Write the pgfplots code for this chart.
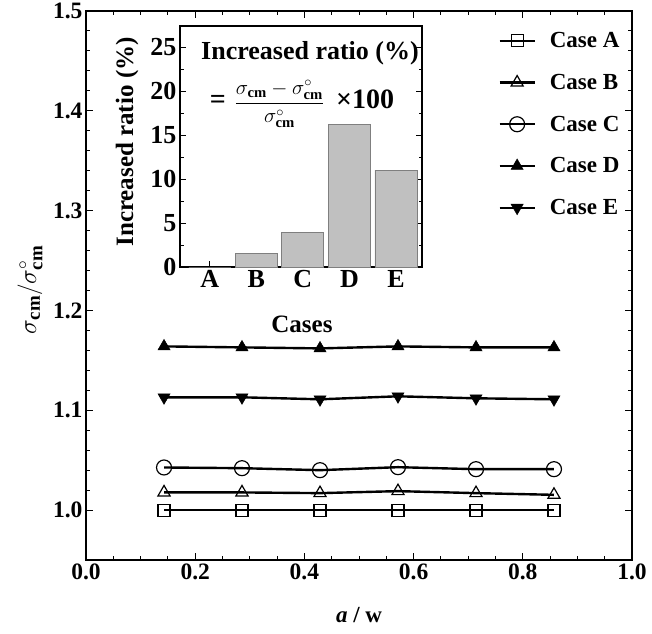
\documentclass[border=0pt]{standalone}
\usepackage{fontspec}
\setmainfont{Liberation Serif}
\usepackage{pgfplots}
\pgfplotsset{compat=1.18}
\definecolor{barfill}{HTML}{C0C0C0}
\definecolor{baredge}{HTML}{7F7F7F}
\begin{document}
\begin{tikzpicture}[x=1pt,y=1pt]
\useasboundingbox (-86,-73) rectangle (566,560);
\begin{axis}[
  name=main,
  at={(0,0)}, anchor=south west,
  scale only axis, width=546pt, height=549pt,
  xmin=0, xmax=1, ymin=0.95, ymax=1.5,
  xtick={0,0.2,0.4,0.6,0.8,1.0},
  ytick={1.0,1.1,1.2,1.3,1.4,1.5},
  minor x tick num=3, minor y tick num=4,
  tick align=inside, major tick length=7pt, minor tick length=4pt,
  axis line style={line width=1.6pt},
  every tick/.style={line width=1pt,black},
  font=\fontsize{23}{27}\selectfont\bfseries,
  xticklabel style={font=\fontsize{23.5}{27}\selectfont\bfseries,/pgf/number format/fixed,/pgf/number format/fixed zerofill,/pgf/number format/precision=1,/pgf/number format/assume math mode=true},
  yticklabel style={font=\fontsize{23.5}{27}\selectfont\bfseries,/pgf/number format/fixed,/pgf/number format/fixed zerofill,/pgf/number format/precision=1,/pgf/number format/assume math mode=true},
  xlabel={\textit{a} / w},
  xlabel style={at={(axis description cs:0.5,-0.100)}, anchor=center},
  ylabel={\fontsize{27}{30}\selectfont$\sigma_{\mathbf{cm}}/\sigma^{\circ}_{\mathbf{cm}}$},
  ylabel style={at={(axis description cs:-0.1026,0.492)}, anchor=center},
  legend style={draw=none, fill=none, at={(axis description cs:0.755,0.965)}, anchor=north west,
    row sep=21pt, column sep=12pt, inner sep=0pt, font=\fontsize{23}{27}\selectfont\bfseries},
  legend cell align=left,
  legend image code/.code={\draw[mark repeat=2,mark phase=2,#1] plot coordinates {(0pt,0pt) (17.5pt,0pt) (35pt,0pt)};},
]
\coordinate (insetSW) at (rel axis cs:0.1722,0.5337);
\addplot[black, line width=2.4pt, mark=square, mark size=6pt, mark options={line width=1.2pt, solid}]
  coordinates {(0.1429,1.000) (0.2857,1.000) (0.4286,1.000) (0.5714,1.000) (0.7143,1.000) (0.8571,1.000)};
\addlegendentry{Case A}
\addplot[black, line width=2.4pt, mark=triangle, mark size=7pt, mark options={line width=1.2pt, solid}]
  coordinates {(0.1429,1.0177) (0.2857,1.0177) (0.4286,1.017) (0.5714,1.019) (0.7143,1.017) (0.8571,1.0153)};
\addlegendentry{Case B}
\addplot[black, line width=2.4pt, mark=o, mark size=7.5pt, mark options={line width=1.2pt, solid}]
  coordinates {(0.1429,1.0427) (0.2857,1.042) (0.4286,1.040) (0.5714,1.043) (0.7143,1.041) (0.8571,1.041)};
\addlegendentry{Case C}
\addplot[black, line width=2.4pt, mark=triangle*, mark size=7pt, mark options={line width=0.5pt, solid, fill=black}]
  coordinates {(0.1429,1.164) (0.2857,1.163) (0.4286,1.162) (0.5714,1.164) (0.7143,1.163) (0.8571,1.163)};
\addlegendentry{Case D}
\addplot[black, line width=2.4pt, mark=triangle*, mark size=7pt, mark options={line width=0.5pt, solid, fill=black, rotate=180}]
  coordinates {(0.1429,1.113) (0.2857,1.113) (0.4286,1.111) (0.5714,1.114) (0.7143,1.112) (0.8571,1.111)};
\addlegendentry{Case E}
\end{axis}
\begin{axis}[
  at={(insetSW)}, anchor=south west,
  scale only axis, width=242pt, height=241pt,
  xmin=0.36, xmax=5.56, ymin=0, ymax=27.4,
  xtick={1,2,3,4,5}, xticklabels={A,B,C,D,E},
  ytick={0,5,10,15,20,25}, minor y tick num=1,
  xtick pos=bottom,
  tick align=inside, major tick length=6pt, minor tick length=3.5pt,
  axis line style={line width=1.6pt},
  every tick/.style={line width=1pt,black},
  axis background/.style={fill=white},
  font=\fontsize{25}{29}\selectfont\bfseries,
  xticklabel style={font=\fontsize{26}{30}\selectfont\bfseries},
  yticklabel style={font=\fontsize{26}{30}\selectfont\bfseries,/pgf/number format/assume math mode=true},
  xlabel={Cases},
  xlabel style={at={(axis description cs:0.504,-0.24)}, anchor=center},
  ylabel={Increased ratio (\%)},
  ylabel style={at={(axis description cs:-0.219,0.519)}, anchor=center},
]
\addplot[ybar, bar width=42pt, bar shift=0pt, fill=barfill, draw=baredge, line width=0.8pt]
  coordinates {(1,0) (2,1.56) (3,3.94) (4,16.25) (5,11.0)};
\node[font=\fontsize{26}{30}\selectfont\bfseries] at (rel axis cs:0.537,0.888) {Increased ratio (\%)};
\node[font=\fontsize{28}{31}\selectfont\bfseries, inner sep=0pt] at (rel axis cs:0.504,0.675)
  {=\hspace{9pt}{\fontsize{21}{24}\selectfont$\displaystyle\frac{\sigma_{\mathbf{cm}}-\sigma^{\circ}_{\mathbf{cm}}}{\sigma^{\circ}_{\mathbf{cm}}}$}\hspace{12pt}×100};
\end{axis}
\end{tikzpicture}
\end{document}
